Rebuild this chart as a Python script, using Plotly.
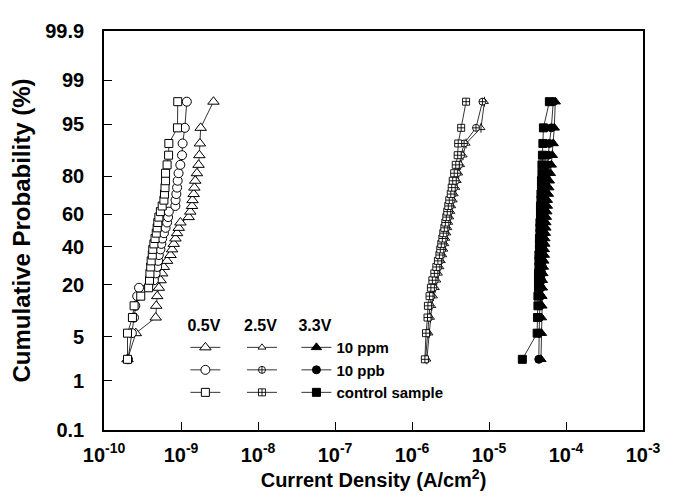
import plotly.graph_objects as go
from statistics import NormalDist

# cumulative probability (%) of each ranked point (30 devices per group)
prob = [2.30, 5.59, 8.88, 12.17, 15.46, 18.75, 22.04, 25.33, 28.62, 31.91,
        35.20, 38.49, 41.78, 45.07, 48.36, 51.64, 54.93, 58.22, 61.51, 64.80,
        68.09, 71.38, 74.67, 77.96, 81.25, 84.54, 87.83, 91.12, 94.41, 97.70]

# current density (A/cm^2), 0.5 V
ppm_05V = [2.02e-10, 2.59e-10, 4.69e-10, 4.77e-10, 4.91e-10, 5.16e-10, 5.43e-10, 5.69e-10, 5.99e-10, 6.60e-10,
           7.31e-10, 7.66e-10, 8.05e-10, 8.47e-10, 8.89e-10, 9.34e-10, 9.83e-10, 1.26e-9, 1.32e-9, 1.39e-9,
           1.41e-9, 1.46e-9, 1.49e-9, 1.53e-9, 1.61e-9, 1.69e-9, 1.73e-9, 1.76e-9, 1.80e-9, 2.64e-9]
ppb_05V = [2.05e-10, 2.30e-10, 2.45e-10, 2.55e-10, 2.70e-10, 2.85e-10, 4.45e-10, 4.68e-10, 4.90e-10, 5.05e-10,
           5.15e-10, 5.40e-10, 5.55e-10, 5.70e-10, 6.00e-10, 6.30e-10, 6.60e-10, 6.80e-10, 6.95e-10, 8.45e-10,
           8.50e-10, 8.70e-10, 8.90e-10, 9.05e-10, 9.30e-10, 9.80e-10, 1.03e-9, 1.05e-9, 1.12e-9, 1.19e-9]
ctrl_05V = [2.02e-10, 2.02e-10, 2.34e-10, 2.46e-10, 3.00e-10, 3.80e-10, 3.90e-10, 3.95e-10, 4.04e-10, 4.10e-10,
            4.24e-10, 4.30e-10, 4.45e-10, 4.60e-10, 4.77e-10, 4.90e-10, 5.00e-10, 5.16e-10, 5.40e-10, 5.70e-10,
            6.00e-10, 6.10e-10, 6.20e-10, 6.30e-10, 6.30e-10, 6.60e-10, 6.90e-10, 6.95e-10, 9.00e-10, 9.07e-10]

# 2.5 V
ppm_25V = [1.56e-6, 1.66e-6, 1.74e-6, 1.81e-6, 1.90e-6, 2.01e-6, 2.10e-6, 2.20e-6, 2.30e-6, 2.40e-6,
           2.51e-6, 2.59e-6, 2.67e-6, 2.75e-6, 2.83e-6, 2.92e-6, 3.00e-6, 3.09e-6, 3.19e-6, 3.28e-6,
           3.43e-6, 3.53e-6, 3.70e-6, 3.86e-6, 4.04e-6, 4.28e-6, 4.61e-6, 5.04e-6, 7.87e-6, 8.73e-6]
ppb_25V = [1.50e-6, 1.59e-6, 1.66e-6, 1.71e-6, 1.79e-6, 1.90e-6, 1.98e-6, 2.07e-6, 2.20e-6, 2.30e-6,
           2.40e-6, 2.48e-6, 2.55e-6, 2.63e-6, 2.71e-6, 2.79e-6, 2.87e-6, 2.96e-6, 3.05e-6, 3.14e-6,
           3.28e-6, 3.38e-6, 3.53e-6, 3.70e-6, 3.86e-6, 4.10e-6, 4.35e-6, 4.75e-6, 6.78e-6, 8.22e-6]
ctrl_25V = [1.47e-6, 1.52e-6, 1.59e-6, 1.61e-6, 1.69e-6, 1.76e-6, 1.84e-6, 1.95e-6, 2.07e-6, 2.17e-6,
            2.27e-6, 2.33e-6, 2.40e-6, 2.48e-6, 2.55e-6, 2.63e-6, 2.71e-6, 2.79e-6, 2.87e-6, 2.96e-6,
            3.05e-6, 3.19e-6, 3.28e-6, 3.38e-6, 3.53e-6, 3.70e-6, 3.92e-6, 3.98e-6, 4.35e-6, 5.04e-6]

# 3.3 V
ppm_33V = [4.73e-5, 4.80e-5, 4.80e-5, 4.87e-5, 4.87e-5, 4.94e-5, 4.94e-5, 5.01e-5, 5.09e-5, 5.16e-5,
           5.24e-5, 5.24e-5, 5.32e-5, 5.32e-5, 5.40e-5, 5.48e-5, 5.48e-5, 5.56e-5, 5.64e-5, 5.73e-5,
           5.73e-5, 5.90e-5, 5.99e-5, 6.08e-5, 6.26e-5, 6.45e-5, 6.64e-5, 6.84e-5, 7.05e-5, 7.26e-5]
ppb_33V = [4.43e-5, 4.45e-5, 4.52e-5, 4.59e-5, 4.66e-5, 4.73e-5, 4.80e-5, 4.87e-5, 4.94e-5, 4.94e-5,
           5.01e-5, 5.01e-5, 5.09e-5, 5.09e-5, 5.16e-5, 5.16e-5, 5.24e-5, 5.24e-5, 5.32e-5, 5.32e-5,
           5.40e-5, 5.40e-5, 5.48e-5, 5.56e-5, 5.64e-5, 5.73e-5, 5.90e-5, 6.08e-5, 6.45e-5, 6.84e-5]
ctrl_33V = [2.71e-5, 4.22e-5, 4.26e-5, 4.32e-5, 4.32e-5, 4.39e-5, 4.39e-5, 4.39e-5, 4.45e-5, 4.45e-5,
            4.45e-5, 4.52e-5, 4.52e-5, 4.52e-5, 4.59e-5, 4.59e-5, 4.59e-5, 4.66e-5, 4.66e-5, 4.66e-5,
            4.73e-5, 4.73e-5, 4.80e-5, 4.80e-5, 4.87e-5, 4.87e-5, 4.94e-5, 5.01e-5, 5.09e-5, 6.08e-5]

y_ticks = [0.1, 1, 5, 20, 40, 60, 80, 95, 99, 99.9]
y_ticklabels = ["0.1", "1", "5", "20", "40", "60", "80", "95", "99", "99.9"]
x_ticks = [1e-10, 1e-9, 1e-8, 1e-7, 1e-6, 1e-5, 1e-4, 1e-3]
x_ticklabels = ["10<sup>-10</sup>", "10<sup>-9</sup>", "10<sup>-8</sup>", "10<sup>-7</sup>",
                "10<sup>-6</sup>", "10<sup>-5</sup>", "10<sup>-4</sup>", "10<sup>-3</sup>"]

nd = NormalDist()
def probit(p):
    return nd.inv_cdf(p / 100.0)

yz = [probit(p) for p in prob]

FONT = "Liberation Sans, Arial, Helvetica, sans-serif"
fig = go.Figure()

def add(xs, symbol, size, fill, legend, name, lw=1.0):
    fig.add_trace(go.Scatter(
        x=xs, y=yz, mode="lines+markers", name=name, legend=legend,
        line=dict(color="black", width=0.8),
        marker=dict(symbol=symbol, size=size, color=fill,
                    line=dict(color="black", width=lw)),
    ))

# 0.5 V (open symbols)
add(ppm_05V, "triangle-up", 10, "white", "legend", " ")
add(ppb_05V, "circle", 9, "white", "legend", " ")
add(ctrl_05V, "square", 8, "white", "legend", " ")
# 2.5 V (crossed symbols)
add(ppm_25V, "triangle-up", 7, "white", "legend2", " ", 0.9)
fig.add_trace(go.Scatter(x=ppm_25V, y=yz, mode="markers", showlegend=False,
                         marker=dict(symbol="line-ns", size=7,
                                     line=dict(color="black", width=0.9))))
add(ppb_25V, "circle-cross", 7, "white", "legend2", " ", 0.9)
add(ctrl_25V, "square-cross", 7, "white", "legend2", " ", 0.9)
# 3.3 V (solid symbols)
add(ppm_33V, "triangle-up", 9, "black", "legend3", "10 ppm")
add(ppb_33V, "circle", 8, "black", "legend3", "10 ppb")
add(ctrl_33V, "square", 8, "black", "legend3", "control sample")

axis_common = dict(showline=True, linecolor="black", linewidth=1.6, mirror=True,
                   ticks="inside", ticklen=8, tickwidth=1.3, tickcolor="black",
                   showgrid=False, zeroline=False, ticklabeloverflow="allow")

# the page body has an 8px margin, so the figure is 8px smaller than the window
fig.update_layout(
    width=665, height=492,
    margin=dict(l=96, r=17, t=17, b=62),
    paper_bgcolor="white", plot_bgcolor="white",
    font=dict(family=FONT, color="black"),
    xaxis=dict(type="log", range=[-10, -3], tickvals=x_ticks, ticktext=x_ticklabels,
               tickfont=dict(size=20, weight="bold", family=FONT),
               ticklabelstandoff=6,
               title=dict(text="Current Density (A/cm<sup>2</sup>)",
                          font=dict(size=20, weight="bold", family=FONT), standoff=8),
               **axis_common),
    yaxis=dict(range=[probit(0.1), probit(99.9)], tickvals=[probit(v) for v in y_ticks],
               ticktext=y_ticklabels,
               tickfont=dict(size=20, weight="bold", family=FONT),
               ticklabelstandoff=14,
               title=dict(text="Cumulative Probability (%)",
                          font=dict(size=24, weight="bold", family=FONT), standoff=8),
               **axis_common),
)

leg_common = dict(yanchor="top", xanchor="left", y=0.30, bgcolor="rgba(0,0,0,0)",
                  borderwidth=0, tracegroupgap=0, itemwidth=30,
                  font=dict(size=15, weight="bold", family=FONT))
TFONT = dict(size=16, weight="bold", family=FONT)
fig.update_layout(
    legend=dict(x=0.151, title=dict(text="0.5V", font=TFONT), **leg_common),
    legend2=dict(x=0.256, title=dict(text="2.5V", font=TFONT), **leg_common),
    legend3=dict(x=0.357, title=dict(text="3.3V", font=TFONT), **leg_common),
)

fig.write_html("out.html")
